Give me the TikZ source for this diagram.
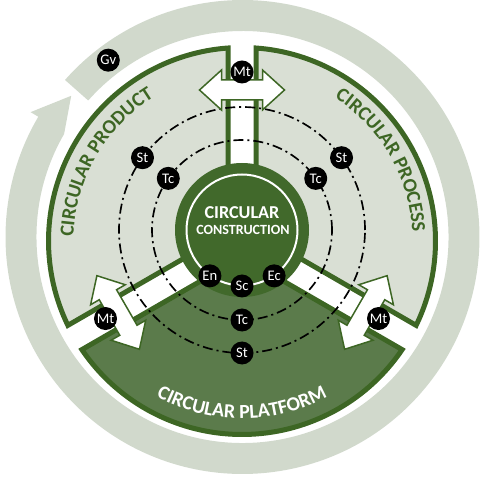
\documentclass[tikz,border=0pt]{standalone}
\usepackage{fontspec}
\setmainfont{Carlito}
\usetikzlibrary{calc, decorations.text}
\definecolor{ringgray}{HTML}{D1D9CC}
\definecolor{sectorgray}{HTML}{D9DFD4}
\definecolor{leafgreen}{HTML}{3D6624}
\definecolor{hubgreen}{HTML}{41692B}
\definecolor{platgreen}{HTML}{5B7B4B}
\newcommand{\sectorfont}{\bfseries\fontsize{17}{17}\selectfont}
\tikzset{
    sector/.style={
        draw=leafgreen, line width=0.15cm, line join=miter
    },
    token/.style={
        circle, fill=black, minimum size=0.69cm, inner sep=0pt,
        text=white, font=\fontsize{12.5}{12.5}\selectfont
    },
    hubtext/.style={
        text=white, inner sep=0pt
    },
    orbit/.style={
        line width=0.05cm, dash pattern=on 0.3cm off 0.12cm on 0.06cm off 0.12cm
    },
    flowarrow/.pic={
        \draw[fill=white, draw=leafgreen, line width=0.045cm, line join=miter]
            (-42.5,0) -- (-20.5,20) -- (-20.5,10) -- (20.5,10) -- (20.5,20) -- (42.5,0)
            -- (20.5,-20) -- (20.5,-10) -- (-20.5,-10) -- (-20.5,-20) -- cycle;
    }
}

\begin{document}
\begin{tikzpicture}[x=0.03cm, y=0.03cm]
    \useasboundingbox (0,0) rectangle (484,478);
    \coordinate (R) at (242.5,241);
    \coordinate (S) at (242,237);
    \coordinate (H) at (242,248);

    % Ring
    \fill[ringgray] ($(R)+(138.5:237)$) arc[start angle=138.5, end angle=-210.5, radius=237]
        -- ($(R)+(149.5:246)$) -- ($(R)+(140.5:222)$) -- ($(R)+(150:206)$)
        arc[start angle=-210, end angle=138.5, radius=206] -- cycle;

    % Sectors
    \foreach \a/\b/\col in {90/210/sectorgray, 210/330/platgreen, -30/90/sectorgray}
        \draw[sector, fill=\col] ($(S)+({(\a+\b)/2}:16.17)$) -- ($(S)+({\a+4.15}:193.5)$)
            arc[start angle=\a+4.15, end angle=\b-4.15, radius=193.5] -- cycle;

    % Hub
    \fill[hubgreen] (H) circle[radius=67];
    \draw[white, line width=0.06cm] (H) circle[radius=55.5];

    % Orbits
    \draw[orbit] (H) circle[radius=90];
    \draw[orbit] (H) circle[radius=123];

    % Arrows
    \foreach \ang/\ra in {90/151, 210/143, 330/143}
        \pic[rotate=\ang+90] at ($(S)+(\ang:\ra)$) {flowarrow};

    % Titles
    \path[decorate, decoration={text along path, text align=center, text color=leafgreen,
        text={|\sectorfont|CIRCULAR PRODUCT}}]
        ($(S)+(200:168.5)$) arc[start angle=200, end angle=100, radius=168.5];
    \path[decorate, decoration={text along path, text align=center, text color=leafgreen,
        text={|\sectorfont|CIRCULAR PROCESS}}]
        ($(S)+(80:170.5)$) arc[start angle=80, end angle=-20, radius=170.5];
    \path[decorate, decoration={text along path, text align=center, text color=white,
        text={|\sectorfont|CIRCULAR PLATFORM}}]
        ($(S)+(215:177.5)$) arc[start angle=215, end angle=325, radius=177.5];

    % Nodes
    \node[hubtext, font=\bfseries\fontsize{15.5}{15.5}\selectfont] (hubtop) at (242,265.5) {CIRCULAR};
    \node[hubtext, font=\bfseries\fontsize{12}{12}\selectfont] (hubbottom) at (243,248) {CONSTRUCTION};
    \node[token] (en) at ($(H)+(235:56)$) {En};
    \node[token] (sc) at ($(H)+(270:56)$) {Sc};
    \node[token] (ec) at ($(H)+(305:56)$) {Ec};
    \node[token] (tcl) at ($(H)+(145:90)$) {Tc};
    \node[token] (tcr) at ($(H)+(35:90)$) {Tc};
    \node[token] (tcb) at ($(H)+(270:90)$) {Tc};
    \node[token] (stl) at ($(H)+(144:123)$) {St};
    \node[token] (str) at ($(H)+(36:123)$) {St};
    \node[token] (stb) at ($(H)+(270:123)$) {St};
    \node[token] (mtt) at ($(S)+(90:169)$) {Mt};
    \node[token] (mtl) at ($(S)+(209.6:157)$) {Mt};
    \node[token] (mtr) at ($(S)+(330.4:157)$) {Mt};
    \node[token] (gv) at ($(R)+(127.2:222)$) {Gv};

\end{tikzpicture}
\end{document}
